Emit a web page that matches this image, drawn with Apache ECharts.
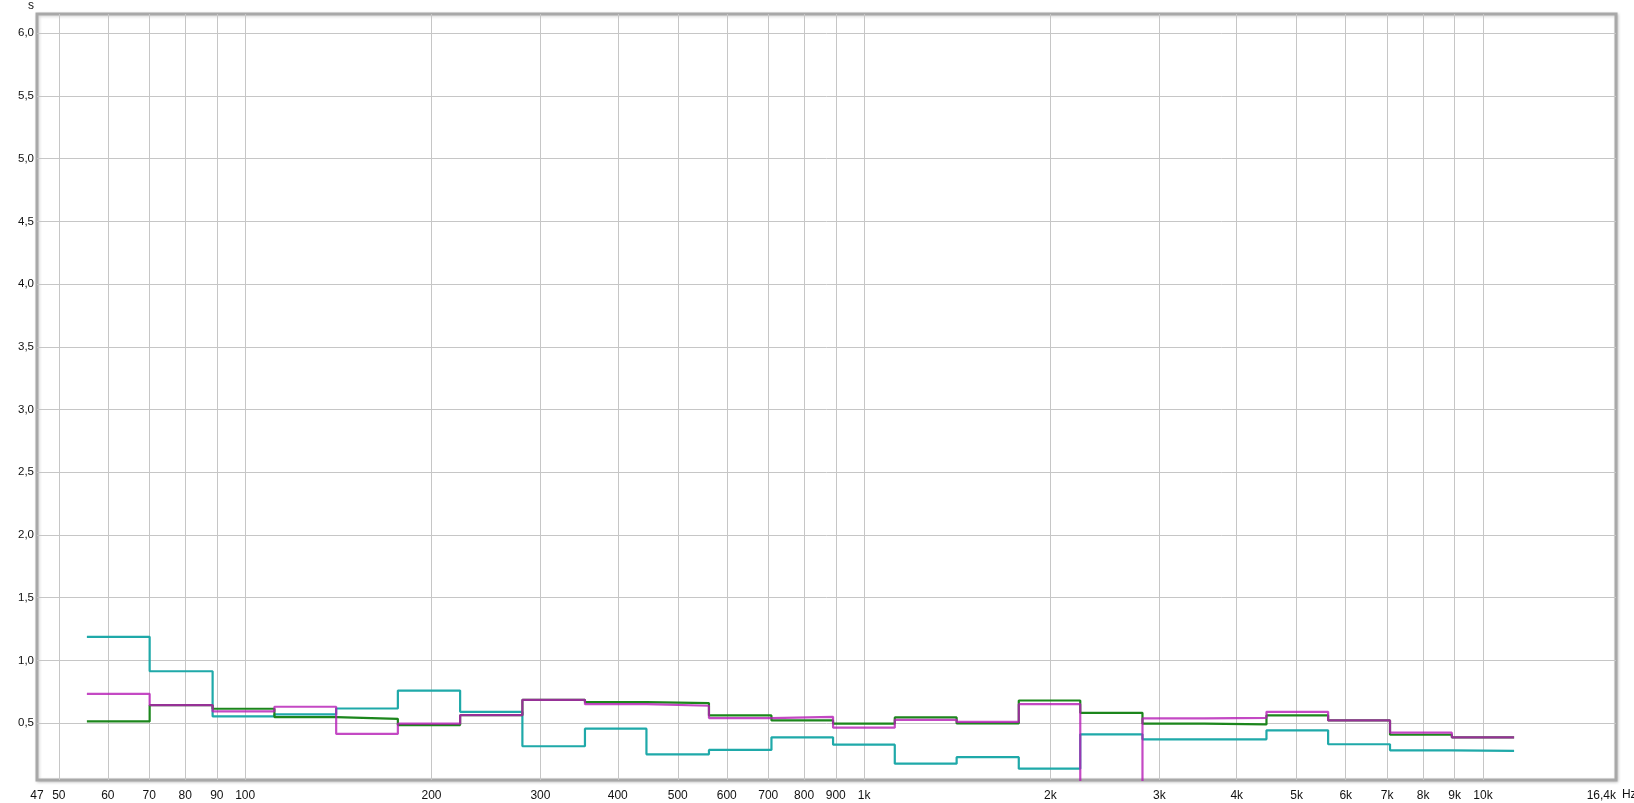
<!DOCTYPE html>
<html>
<head>
<meta charset="utf-8">
<script src="https://cdn.jsdelivr.net/npm/echarts@6/dist/echarts.min.js"></script>
<style>
html,body{margin:0;padding:0;background:#fff;}
#chart{width:1634px;height:803px;}
</style>
</head>
<body>
<div id="chart"></div>
<script>
// Third-octave band edges (Hz), 63 Hz .. 10 kHz bands
const bandEdges = [55.5, 70.1, 88.6, 111.5, 140.3, 176.5, 222.5, 280.5, 354, 445, 561.5, 708.5, 891, 1121, 1411, 1778, 2235, 2817, 3548, 4468, 5620, 7075, 8905, 11225];

// Values per band (s)
const greenValues   = [0.513, 0.643, 0.614, 0.548, 0.534, 0.484, 0.563, 0.685, 0.667, 0.659, 0.561, 0.521, 0.495, 0.545, 0.497, 0.680, 0.582, 0.495, 0.489, 0.561, 0.521, 0.407, 0.386];
const magentaValues = [0.733, 0.643, 0.593, 0.630, 0.413, 0.495, 0.563, 0.685, 0.651, 0.638, 0.540, 0.550, 0.463, 0.526, 0.510, 0.651, 0.000, 0.537, 0.542, 0.590, 0.521, 0.423, 0.386];
const cyanValues    = [1.188, 0.913, 0.553, 0.569, 0.616, 0.759, 0.590, 0.315, 0.455, 0.251, 0.286, 0.386, 0.328, 0.176, 0.228, 0.136, 0.410, 0.370, 0.370, 0.442, 0.331, 0.283, 0.278];

// Axis ticks
const xGridFreqs  = [50, 60, 70, 80, 90, 100, 200, 300, 400, 500, 600, 700, 800, 900, 1000, 2000, 3000, 4000, 5000, 6000, 7000, 8000, 9000, 10000];
const xGridLabels = ['50','60','70','80','90','100','200','300','400','500','600','700','800','900','1k','2k','3k','4k','5k','6k','7k','8k','9k','10k'];
const xMinFreq = 46.1, xMinLabel = '47';
const xMaxFreq = 16400, xMaxLabel = '16,4k';
const yTicks = [0.5, 1.0, 1.5, 2.0, 2.5, 3.0, 3.5, 4.0, 4.5, 5.0, 5.5, 6.0];
const yMin = 0.046, yMax = 6.154;

const lg = Math.log10;
function stepData(vals) {
  const d = vals.map((v, i) => [lg(bandEdges[i]), v]);
  d.push([lg(bandEdges[bandEdges.length - 1]), vals[vals.length - 1]]);
  return d;
}
const labelVals = [lg(xMinFreq)].concat(xGridFreqs.map(lg), [lg(xMaxFreq)]);
const labelTexts = [xMinLabel].concat(xGridLabels, [xMaxLabel]);

const font = 'Liberation Sans, Arial, sans-serif';
const txt = '#111';
const chart = echarts.init(document.getElementById('chart'), null, {renderer: 'canvas'});
chart.setOption({
  animation: false,
  backgroundColor: '#fff',
  grid: {
    left: 37, right: 18, top: 14, bottom: 23,
    containLabel: false, outerBoundsMode: 'none',
    show: true, backgroundColor: '#fff',
    borderColor: '#a8a8a8', borderWidth: 3,
    shadowColor: 'rgba(0,0,0,0.18)', shadowBlur: 3, shadowOffsetX: 1, shadowOffsetY: 1
  },
  xAxis: {
    type: 'value',
    min: lg(xMinFreq), max: lg(xMaxFreq),
    name: 'Hz', nameLocation: 'end', nameGap: 3,
    nameTextStyle: {color: txt, fontFamily: font, fontSize: 12, verticalAlign: 'top', padding: [9, 0, 0, 0]},
    axisLine: {show: false},
    axisTick: {show: false, customValues: xGridFreqs.map(lg)},
    splitLine: {show: true, lineStyle: {color: '#c6c6c6', width: 1}},
    axisLabel: {
      customValues: labelVals,
      color: txt, fontFamily: font, fontSize: 12, margin: 10,
      alignMaxLabel: 'right',
      formatter: function (v) {
        let best = 0, bd = 1e9;
        labelVals.forEach((lv, i) => { const d = Math.abs(lv - v); if (d < bd) { bd = d; best = i; } });
        return labelTexts[best];
      }
    }
  },
  yAxis: {
    type: 'value',
    min: yMin, max: yMax,
    name: 's', nameLocation: 'end', nameGap: 2,
    nameTextStyle: {color: txt, fontFamily: font, fontSize: 12, align: 'right', padding: [0, 3, 0, 0]},
    axisLine: {show: false},
    axisTick: {show: false, customValues: yTicks},
    splitLine: {show: true, lineStyle: {color: '#c6c6c6', width: 1}},
    axisLabel: {
      customValues: yTicks,
      color: txt, fontFamily: font, fontSize: 11.5, margin: 3,
      formatter: v => v.toFixed(1).replace('.', ',')
    }
  },
  series: [
    {name: 'cyan', type: 'line', step: 'end', showSymbol: false, symbol: 'none',
     data: stepData(cyanValues), lineStyle: {color: '#1fa9a9', width: 2.2}, z: 2},
    {name: 'green', type: 'line', step: 'end', showSymbol: false, symbol: 'none',
     data: stepData(greenValues), lineStyle: {color: '#1c861c', width: 2.2}, z: 3},
    {name: 'magenta', type: 'line', step: 'end', showSymbol: false, symbol: 'none',
     data: stepData(magentaValues), lineStyle: {color: '#b51cb5', width: 2.2, opacity: 0.8}, z: 4}
  ]
});
</script>
</body>
</html>
